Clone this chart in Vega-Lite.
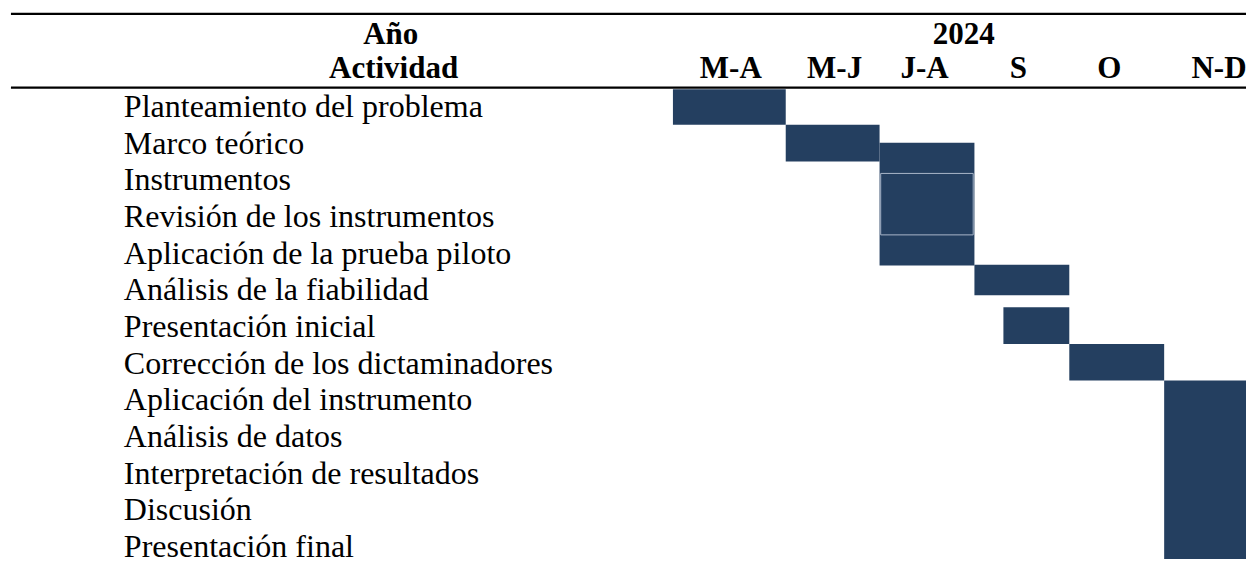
{
  "$schema": "https://vega.github.io/schema/vega-lite/v6.json",
  "width": 1248,
  "height": 564,
  "padding": 0,
  "autosize": {"type": "fit", "contains": "padding"},
  "background": "white",
  "config": {"view": {"stroke": null}},
  "datasets": {
    "bars": [
      {"actividad": "Planteamiento del problema", "periodo": "M-A", "x0": 7.129, "x1": 8.324, "y0": 0.0, "y1": 0.973},
      {"actividad": "Marco teórico", "periodo": "M-J", "x0": 8.324, "x1": 9.318, "y0": 0.973, "y1": 1.973},
      {"actividad": "Marco teórico – Aplicación de la prueba piloto", "periodo": "J-A", "x0": 9.318, "x1": 10.323, "y0": 1.459, "y1": 4.811},
      {"actividad": "Análisis de la fiabilidad", "periodo": "S", "x0": 10.323, "x1": 11.328, "y0": 4.784, "y1": 5.622},
      {"actividad": "Presentación inicial", "periodo": "S", "x0": 10.63, "x1": 11.328, "y0": 5.946, "y1": 6.946},
      {"actividad": "Corrección de los dictaminadores", "periodo": "O", "x0": 11.328, "x1": 12.333, "y0": 6.946, "y1": 7.946},
      {"actividad": "Aplicación del instrumento – Presentación final", "periodo": "N-D", "x0": 12.333, "x1": 13.2, "y0": 7.946, "y1": 12.811}
    ],
    "inner": [
      {"actividad": "Instrumentos – Revisión de los instrumentos", "periodo": "J-A", "x0": 9.33, "x1": 10.31, "y0": 2.297, "y1": 3.973}
    ],
    "rows": [
      {"actividad": "Planteamiento del problema", "x": 1.312, "y": 0.76},
      {"actividad": "Marco teórico", "x": 1.312, "y": 1.76},
      {"actividad": "Instrumentos", "x": 1.312, "y": 2.76},
      {"actividad": "Revisión de los instrumentos", "x": 1.312, "y": 3.76},
      {"actividad": "Aplicación de la prueba piloto", "x": 1.312, "y": 4.76},
      {"actividad": "Análisis de la fiabilidad", "x": 1.312, "y": 5.76},
      {"actividad": "Presentación inicial", "x": 1.312, "y": 6.76},
      {"actividad": "Corrección de los dictaminadores", "x": 1.312, "y": 7.76},
      {"actividad": "Aplicación del instrumento", "x": 1.312, "y": 8.76},
      {"actividad": "Análisis de datos", "x": 1.312, "y": 9.76},
      {"actividad": "Interpretación de resultados", "x": 1.312, "y": 10.76},
      {"actividad": "Discusión", "x": 1.312, "y": 11.76},
      {"actividad": "Presentación final", "x": 1.312, "y": 12.76}
    ],
    "headers": [
      {"texto": "Año", "x": 4.14, "y": -1.243},
      {"texto": "Actividad", "x": 4.17, "y": -0.297},
      {"texto": "2024", "x": 10.21, "y": -1.243},
      {"texto": "M-A", "x": 7.742, "y": -0.297},
      {"texto": "M-J", "x": 8.842, "y": -0.297},
      {"texto": "J-A", "x": 9.794, "y": -0.297},
      {"texto": "S", "x": 10.789, "y": -0.297},
      {"texto": "O", "x": 11.751, "y": -0.297},
      {"texto": "N-D", "x": 12.914, "y": -0.297}
    ],
    "lines": [
      {"linea": "superior", "x0": 0.116, "x1": 13.2, "y": -2.054},
      {"linea": "encabezado", "x0": 0.116, "x1": 13.2, "y": -0.04}
    ]
  },
  "layer": [
    {
      "data": {"name": "bars"},
      "mark": {"type": "rect", "color": "#243F60"},
      "encoding": {
        "x": {"field": "x0", "type": "quantitative", "axis": null, "scale": {"domain": [0, 13.2], "nice": false, "zero": false}},
        "x2": {"field": "x1"},
        "y": {"field": "y0", "type": "quantitative", "axis": null, "scale": {"domain": [-2.432, 12.811], "nice": false, "zero": false, "reverse": true}},
        "y2": {"field": "y1"}
      }
    },
    {
      "data": {"name": "inner"},
      "mark": {"type": "rect", "fill": "#243F60", "stroke": "#a9b6c8", "strokeWidth": 1},
      "encoding": {
        "x": {"field": "x0", "type": "quantitative", "axis": null, "scale": {"domain": [0, 13.2], "nice": false, "zero": false}},
        "x2": {"field": "x1"},
        "y": {"field": "y0", "type": "quantitative", "axis": null, "scale": {"domain": [-2.432, 12.811], "nice": false, "zero": false, "reverse": true}},
        "y2": {"field": "y1"}
      }
    },
    {
      "data": {"name": "lines"},
      "mark": {"type": "rule", "color": "black", "strokeWidth": 2.2},
      "encoding": {
        "x": {"field": "x0", "type": "quantitative", "axis": null, "scale": {"domain": [0, 13.2], "nice": false, "zero": false}},
        "x2": {"field": "x1"},
        "y": {"field": "y", "type": "quantitative", "axis": null, "scale": {"domain": [-2.432, 12.811], "nice": false, "zero": false, "reverse": true}}
      }
    },
    {
      "data": {"name": "rows"},
      "mark": {"type": "text", "font": "Liberation Serif", "fontSize": 32, "align": "left", "baseline": "alphabetic", "color": "black"},
      "encoding": {
        "x": {"field": "x", "type": "quantitative", "axis": null, "scale": {"domain": [0, 13.2], "nice": false, "zero": false}},
        "y": {"field": "y", "type": "quantitative", "axis": null, "scale": {"domain": [-2.432, 12.811], "nice": false, "zero": false, "reverse": true}},
        "text": {"field": "actividad"}
      }
    },
    {
      "data": {"name": "headers"},
      "mark": {"type": "text", "font": "Liberation Serif", "fontSize": 31, "fontWeight": "bold", "align": "center", "baseline": "alphabetic", "color": "black"},
      "encoding": {
        "x": {"field": "x", "type": "quantitative", "axis": null, "scale": {"domain": [0, 13.2], "nice": false, "zero": false}},
        "y": {"field": "y", "type": "quantitative", "axis": null, "scale": {"domain": [-2.432, 12.811], "nice": false, "zero": false, "reverse": true}},
        "text": {"field": "texto"}
      }
    }
  ]
}
